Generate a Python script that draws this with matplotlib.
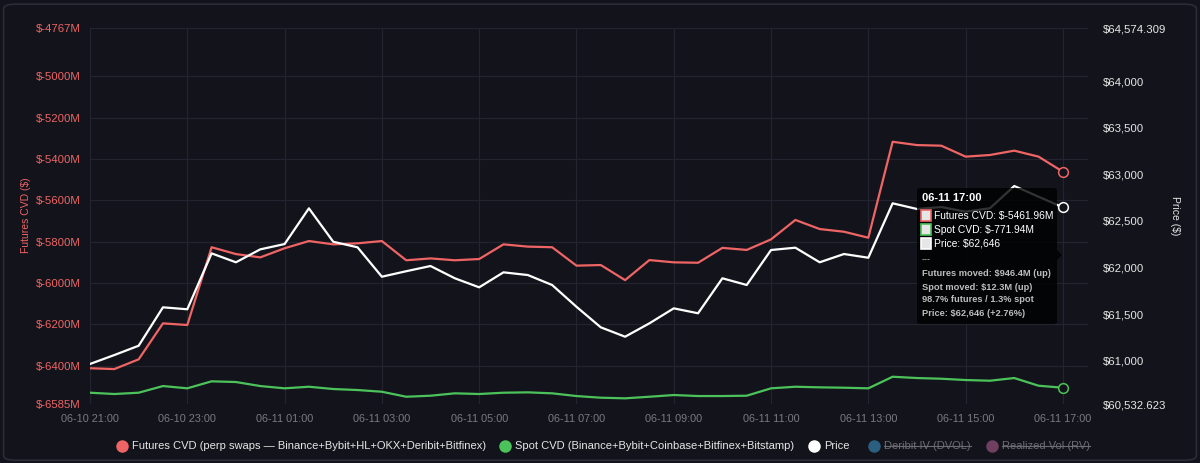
import matplotlib.pyplot as plt
import matplotlib.dates as mdates
from matplotlib.patches import FancyBboxPatch, Polygon
import numpy as np
import pandas as pd

plt.rcParams['font.family'] = ['Liberation Sans', 'DejaVu Sans']

# 30-minute samples, 06-10 21:00 -> 06-11 17:00
times = pd.date_range('2024-06-10 21:00', '2024-06-11 17:00', freq='30min')

futures_cvd = [-6412, -6416, -6369, -6195, -6203, -5827, -5860, -5876, -5832, -5797,
               -5813, -5808, -5797, -5890, -5881, -5890, -5884, -5813, -5824, -5827,
               -5916, -5913, -5986, -5889, -5900, -5902, -5830, -5840, -5789, -5695,
               -5739, -5752, -5781, -5317, -5333, -5336, -5389, -5381, -5360, -5389,
               -5461.96]
spot_cvd = [-784.2, -787.4, -784.2, -767.8, -773.4, -756.2, -757.9, -767.8, -773.4, -769.5,
            -775.1, -777.6, -781.8, -794.1, -791.6, -785.7, -787.4, -784.2, -783.3, -785.7,
            -792.4, -796.5, -798.0, -794.1, -789.9, -792.4, -792.4, -791.6, -773.4, -769.5,
            -771.0, -771.9, -773.4, -744.9, -748.1, -749.8, -753.0, -754.7, -748.1, -767.0,
            -771.94]
price = [60963, 61059, 61159, 61572, 61551, 62152, 62056, 62195, 62252, 62636,
         62277, 62217, 61901, 61960, 62016, 61884, 61787, 61948, 61919, 61812,
         61578, 61357, 61256, 61400, 61561, 61508, 61884, 61812, 62188, 62213,
         62056, 62145, 62105, 62690, 62629, 62650, 62600, 62637, 62876, 62761,
         62646]

left_ticks = [-4767, -5000, -5200, -5400, -5600, -5800, -6000, -6200, -6400, -6585]
right_ticks = [64574.309, 64000, 63500, 63000, 62500, 62000, 61500, 61000, 60532.623]
right_labels = ['$64,574.309', '$64,000', '$63,500', '$63,000', '$62,500',
                '$62,000', '$61,500', '$61,000', '$60,532.623']

BG = '#13141b'
GRID = '#23242f'
RED = '#ef6464'
GREEN = '#4cc35a'

fig = plt.figure(figsize=(12, 4.63), dpi=100, facecolor=BG)
ax = fig.add_axes([0.075, 0.1274, 0.8317, 0.8121])
ax.set_facecolor(BG)
ax2 = ax.twinx()
ax3 = ax.twinx()

ax.plot(times, futures_cvd, color=RED, lw=1.6, zorder=3)
ax2.plot(times, price, color='white', lw=1.6, zorder=3)
ax3.plot(times, spot_cvd, color=GREEN, lw=1.6, zorder=3)
ax.plot(times[-1], futures_cvd[-1], 'o', ms=7, mfc=BG, mec=RED, mew=1.1, zorder=4)
ax2.plot(times[-1], price[-1], 'o', ms=7, mfc=BG, mec='white', mew=1.1, zorder=4)
ax3.plot(times[-1], spot_cvd[-1], 'o', ms=7, mfc=BG, mec=GREEN, mew=1.1, zorder=4)

ax.set_xlim(times[0], times[-1] + pd.Timedelta(minutes=31))
ax.set_ylim(-6585, -4767)
ax2.set_ylim(60532.623, 64574.309)
ax3.set_ylim(-812, 113)
ax3.axis('off')

ax.set_yticks(left_ticks)
ax.set_yticklabels([f'$-{abs(v)}M' for v in left_ticks])
ax2.set_yticks(right_ticks)
ax2.set_yticklabels(right_labels)

ax.xaxis.set_major_locator(mdates.HourLocator(byhour=range(1, 24, 2)))
ax.xaxis.set_major_formatter(mdates.DateFormatter('%m-%d %H:%M'))

ax.tick_params(axis='y', colors=RED, labelsize=8.2, length=0, pad=6.5)
ax.tick_params(axis='x', colors='#7a7b82', labelsize=7.8, length=0, pad=7)
ax2.tick_params(axis='y', colors='#e6e6e6', labelsize=8.2, length=0, pad=11)

ax.grid(True, color=GRID, lw=0.8)
for a in (ax, ax2, ax3):
    for s in a.spines.values():
        s.set_visible(False)

fig.text(0.022, 0.535, 'Futures CVD ($)', color=RED, fontsize=7.5, rotation=90,
         ha='center', va='center')
fig.text(0.979, 0.535, 'Price ($)', color='#e6e6e6', fontsize=7.5, rotation=270,
         ha='center', va='center')

# outer panel border
fig.patches.append(FancyBboxPatch((0.003, 0.006), 0.994, 0.985, boxstyle='round,pad=0,rounding_size=0.01',
                                  transform=fig.transFigure, fc='none', ec='#2a2c36', lw=1.2))

# tooltip
W, H = 1200, 463
tip = FancyBboxPatch((917 / W, 1 - 324 / H), 140 / W, 136 / H,
                     boxstyle='round,pad=0,rounding_size=0.004', transform=fig.transFigure,
                     fc='black', ec='none', alpha=0.8, zorder=10)
fig.patches.append(tip)
fig.patches.append(Polygon([(1057 / W, 1 - 250 / H), (1062 / W, 1 - 255 / H), (1057 / W, 1 - 260 / H)],
                           closed=True, transform=fig.transFigure, fc='black', ec='none',
                           alpha=0.8, zorder=10))
tx = 922 / W
fig.text(tx, 1 - 198 / H, '06-11 17:00', color='white', fontsize=8, weight='bold',
         va='center', zorder=11)
rows = [(RED, 'Futures CVD: $-5461.96M', 216), (GREEN, 'Spot CVD: $-771.94M', 230),
        ('white', 'Price: $62,646', 244)]
for col, label, y in rows:
    fig.patches.append(FancyBboxPatch((921 / W, 1 - (y + 5) / H), 10 / W, 11 / H,
                                      boxstyle='square,pad=0', transform=fig.transFigure,
                                      fc='#e6e6e6', ec=col, lw=1.2, zorder=11))
    fig.text(934 / W, 1 - y / H, label, color='white', fontsize=7.4, va='center', zorder=11)
fig.text(tx, 1 - 260 / H, '---', color='#bbbbbb', fontsize=6.5, va='center', zorder=11)
stats = ['Futures moved: $946.4M (up)', 'Spot moved: $12.3M (up)',
         '98.7% futures / 1.3% spot', 'Price: $62,646 (+2.76%)']
for k, s in enumerate(stats):
    fig.text(tx, 1 - (274 + 13 * k) / H, s, color='#bdbdbd', fontsize=6.7, weight='bold',
             va='center', zorder=11)

# legend
legend_items = [(RED, 'Futures CVD (perp swaps \u2014 Binance+Bybit+HL+OKX+Deribit+Bitfinex)', 122, False),
                (GREEN, 'Spot CVD (Binance+Bybit+Coinbase+Bitfinex+Bitstamp)', 505, False),
                ('white', 'Price', 814, False),
                ('#2a5f80', 'Deribit IV (DVOL)', 874, True),
                ('#6e3f5e', 'Realized Vol (RV)', 992, True)]
ly = 1 - 446 / H
for col, label, x, off in legend_items:
    fig.add_artist(plt.Line2D([x / W], [ly], marker='o', ms=9, mfc=col, mec='none',
                              transform=fig.transFigure))
    t = fig.text((x + 10) / W, ly, label, color='#6c6c72' if off else '#e6e6e6',
                 fontsize=8, va='center')
    if off:
        fig.canvas.draw()
        bb = t.get_window_extent()
        fig.add_artist(plt.Line2D([bb.x0 / W, bb.x1 / W], [ly, ly],
                                  transform=fig.transFigure, color='#6c6c72', lw=0.8))

fig.savefig('out.png', dpi=100, facecolor=BG)
